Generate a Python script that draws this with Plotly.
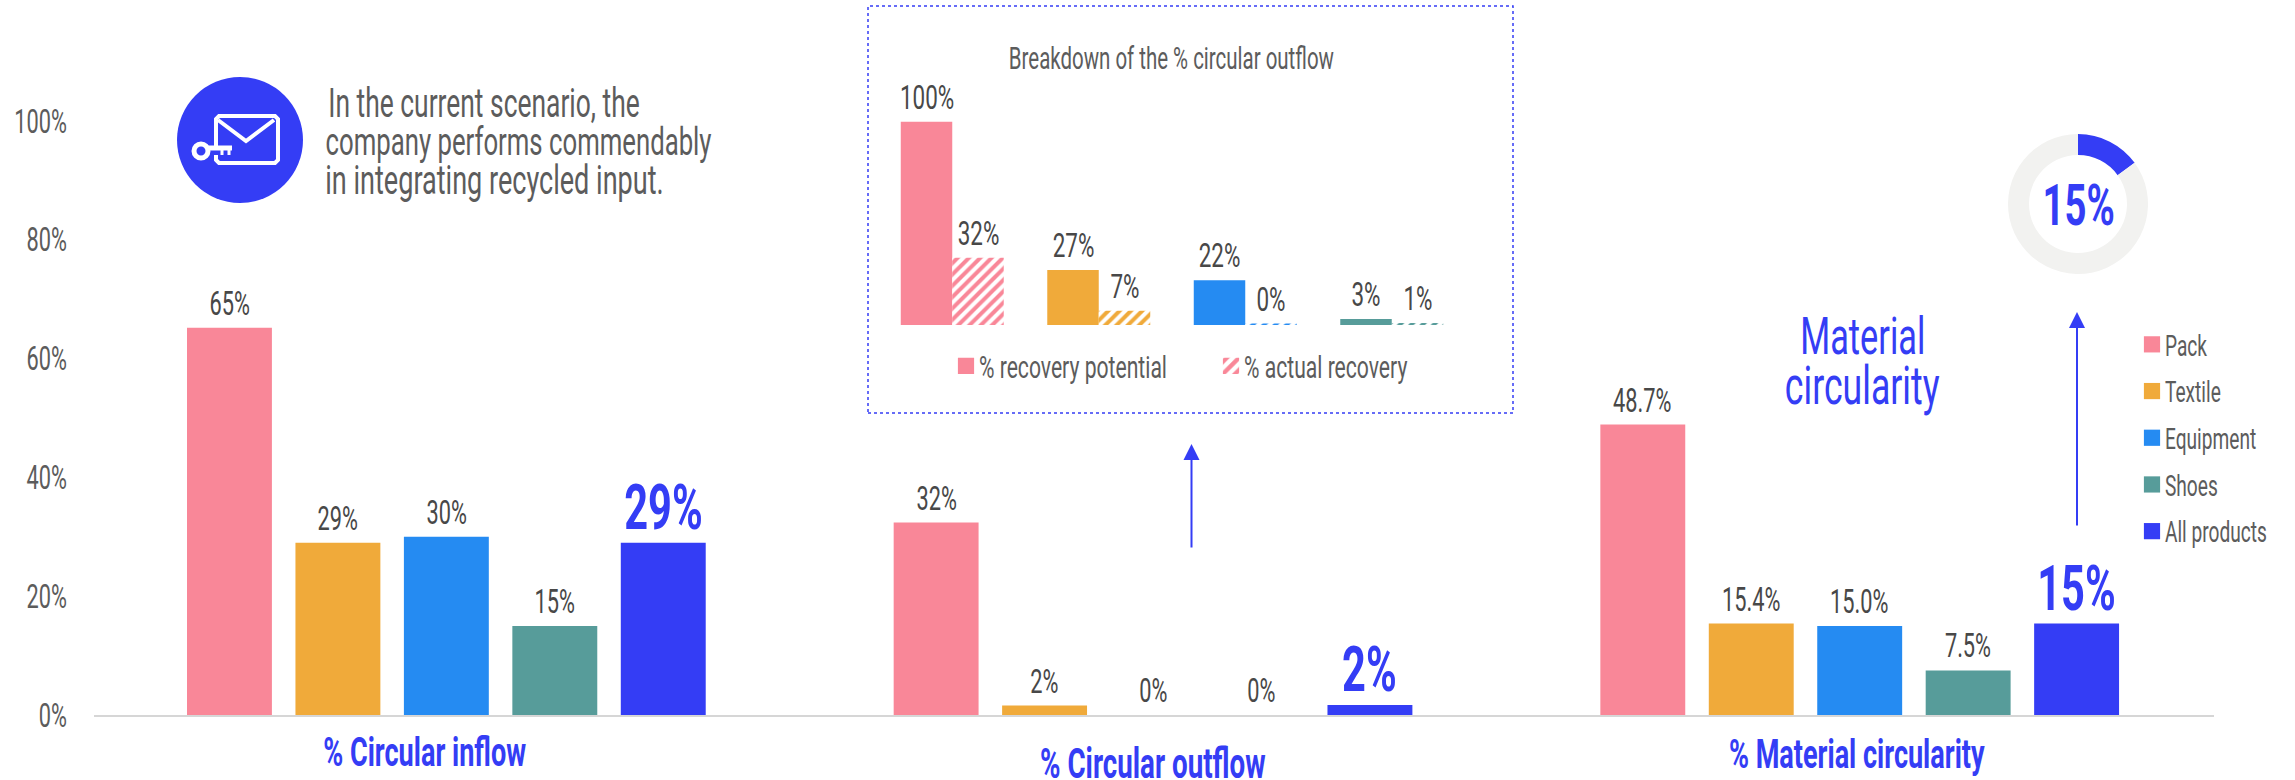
import plotly.graph_objects as go

W, H = 2295, 780
FONT = "Roboto"
GREY = "#5c5c5c"
DARK = "#484848"
ACCENT = "#343df5"

categories = ["Pack", "Textile", "Equipment", "Shoes", "All products"]
colors = ["#f98798", "#f0aa3a", "#258bf2", "#579c9a", ACCENT]
circular_inflow = [65.2, 29, 30, 15, 29]
circular_outflow = [32.4, 1.6, 0, 0, 1.7]
material_circularity = [48.9, 15.4, 15.0, 7.5, 15.4]
inflow_labels = ["65%", "29%", "30%", "15%", "29%"]
outflow_labels = ["32%", "2%", "0%", "0%", "2%"]
material_labels = ["48.7%", "15.4%", "15.0%", "7.5%", "15%"]

inset_categories = ["Pack", "Textile", "Equipment", "Shoes"]
recovery_potential = [100, 27, 22, 3]
actual_recovery = [33, 7, 0.5, 1]
potential_labels = ["100%", "27%", "22%", "3%"]
actual_labels = ["32%", "7%", "0%", "1%"]
donut_values = [15, 85]


def px(x):
    return x / W


def py(y):
    return (H - y) / H


def fnt(size, color=GREY):
    return dict(family=FONT, size=size, color=color)


fig = go.Figure()
groups = [
    ("x", "y", circular_inflow, inflow_labels),
    ("x2", "y", circular_outflow, outflow_labels),
    ("x3", "y", material_circularity, material_labels),
]
annotations = []
for g, (xa, ya, vals, labels) in enumerate(groups):
    for i, cat in enumerate(categories):
        fig.add_trace(go.Bar(
            x=[cat], y=[vals[i]], xaxis=xa, yaxis=ya, width=0.783,
            marker=dict(color=colors[i], line_width=0), name=cat,
            legendgroup=cat, showlegend=g == 0, legend="legend",
        ))
        big = i == 4
        annotations.append(dict(
            x=i, y=vals[i], xref=xa, yref=ya, text=f"<b>{labels[i]}</b>" if big else labels[i], showarrow=False,
            yanchor="bottom", yshift=-3 if big else 3,
            font=fnt(63 if big else 33, ACCENT if big else DARK),
        ))

BW = 0.3515
fig.add_trace(go.Bar(
    x=inset_categories, y=recovery_potential, xaxis="x4", yaxis="y4",
    width=BW, offset=-BW, name="% recovery potential", legend="legend2",
    marker=dict(color=colors[:4], line_width=0),
))
fig.add_trace(go.Bar(
    x=inset_categories, y=actual_recovery, xaxis="x4", yaxis="y4",
    width=BW, offset=0, name="% actual recovery", legend="legend2",
    marker=dict(color="white", line_width=0,
                pattern=dict(shape="/", size=8, solidity=0.5, fgcolor=colors[:4],
                             bgcolor="white", fillmode="replace")),
))
for i in range(4):
    for vals, labels, off in ((recovery_potential, potential_labels, -BW / 2),
                              (actual_recovery, actual_labels, BW / 2)):
        annotations.append(dict(
            x=i + off, y=vals[i], xref="x4", yref="y4", text=labels[i], showarrow=False,
            yanchor="bottom", yshift=3, font=fnt(34, DARK),
        ))

fig.add_trace(go.Pie(
    values=donut_values, hole=0.7, sort=False, direction="clockwise", rotation=0,
    marker=dict(colors=[ACCENT, "#f2f2f0"], line_width=0), textinfo="none",
    showlegend=False, domain=dict(x=[px(2008), px(2148)], y=[py(274), py(134)]),
))


def note(x, y, text, size, color=GREY, bold=False):
    annotations.append(dict(
        x=px(x), y=py(y), xref="paper", yref="paper", text=f"<b>{text}</b>" if bold else text,
        showarrow=False, xanchor="center", yanchor="middle", font=fnt(size, color),
    ))


note(484, 104, "In the current scenario, the", 40)
note(518, 142, "company performs commendably", 39)
note(494, 180, "in integrating recycled input.", 41)
note(424, 752, "% Circular inflow", 41, ACCENT, bold=True)
note(1153, 763, "% Circular outflow", 42, ACCENT, bold=True)
note(1857, 754, "% Material circularity", 41, ACCENT, bold=True)
note(1171, 59, "Breakdown of the % circular outflow", 31)
note(1862, 336, "Material", 52, ACCENT)
note(1862, 385, "circularity", 54, ACCENT)
note(2078, 205, "15%", 58, ACCENT, bold=True)

for x, y0, y1 in ((1191.5, 549, 444), (2077, 527, 312)):
    annotations.append(dict(
        x=px(x), y=py(y1), ax=0, ay=y0 - y1, xref="paper", yref="paper",
        axref="pixel", ayref="pixel", text="", showarrow=True, arrowhead=2,
        arrowsize=1.6, arrowwidth=2, arrowcolor=ACCENT,
    ))

ICON = "white"
shapes = [
    dict(type="rect", xref="paper", yref="paper", x0=px(868), x1=px(1513), y0=py(413), y1=py(6),
         line=dict(color=ACCENT, width=1.5, dash="dot"), fillcolor="rgba(0,0,0,0)", layer="below"),
    dict(type="circle", xref="paper", yref="paper", x0=px(177), x1=px(303), y0=py(203), y1=py(77),
         fillcolor=ACCENT, line_width=0),
]


def poly(points, width=4, close=False):
    path = "M" + " L".join(f"{px(a):.5f},{py(b):.5f}" for a, b in points) + (" Z" if close else "")
    shapes.append(dict(type="path", xref="paper", yref="paper", path=path,
                       line=dict(color=ICON, width=width)))


poly([(216, 150), (216, 119), (219, 116), (275, 116), (278, 119), (278, 160), (275, 163),
      (219, 163), (216, 160), (216, 155)])
poly([(218, 120), (246, 141), (274, 120)])
poly([(207, 148), (232, 148)], 5)
poly([(222, 148), (222, 155)], 3)
poly([(229, 148), (229, 155)], 3)
shapes.append(dict(type="circle", xref="paper", yref="paper", x0=px(194), x1=px(208), y0=py(158), y1=py(144),
                   line=dict(color=ICON, width=5), fillcolor=ACCENT))

G0, GW = 94, 706.67
common_x = dict(type="category", categoryorder="array", categoryarray=categories,
                range=[-1.249, 5.267], showticklabels=False, ticks="", showgrid=False,
                linecolor="#d6d6d6", linewidth=2, showline=True, zeroline=False, anchor="y")

fig.update_layout(
    width=W, height=H, autosize=False, paper_bgcolor="white", plot_bgcolor="rgba(0,0,0,0)",
    margin=dict(l=0, r=0, t=0, b=0, autoexpand=False), barmode="overlay", showlegend=True,
    font=fnt(24),
    xaxis=dict(domain=[px(G0), px(G0 + GW)], **common_x),
    xaxis2=dict(domain=[px(G0 + GW), px(G0 + 2 * GW)], **common_x),
    xaxis3=dict(domain=[px(G0 + 2 * GW), px(G0 + 3 * GW)], **common_x),
    xaxis4=dict(domain=[px(879), px(1465)], type="category", categoryorder="array",
                categoryarray=inset_categories, range=[-0.5, 3.5], visible=False, anchor="y4"),
    yaxis=dict(domain=[py(715), py(121)], range=[0, 100], tickvals=[0, 20, 40, 60, 80, 100],
               ticktext=["0%", "20%", "40%", "60%", "80%", "100%"], showgrid=False, zeroline=False,
               ticks="", showline=False, anchor="x", ticklabelstandoff=26, tickfont=fnt(33)),
    yaxis4=dict(domain=[py(325), py(121.5)], range=[0, 100], visible=False, anchor="x4"),
    legend=dict(x=px(2125), y=py(344 - 25), xanchor="left", yanchor="top", orientation="v",
                traceorder="grouped", tracegroupgap=6, font=fnt(29),
                bgcolor="rgba(0,0,0,0)", itemclick=False, itemdoubleclick=False),
    legend2=dict(x=px(939), y=py(366), xanchor="left", yanchor="middle", orientation="h",
                 entrywidth=220, entrywidthmode="pixels", font=fnt(32),
                 bgcolor="rgba(0,0,0,0)", itemclick=False, itemdoubleclick=False),
    annotations=annotations, shapes=shapes,
)

# The reference uses a tall condensed face; squeeze the installed one horizontally.
SQUEEZE = 0.66
post = """
document.body.style.margin='0';
var gd=document.getElementById('{plot_id}');
function squeeze(){
  gd.querySelectorAll('text').forEach(function(t){
    if(t.getAttribute('data-sq'))return;
    var x=parseFloat(t.getAttribute('x'))||0, tr=t.getAttribute('transform')||'';
    t.setAttribute('transform',tr+' translate('+x+' 0) scale(%s 1) translate('+(-x)+' 0)');
    t.setAttribute('data-sq','1');
  });
  gd.querySelectorAll('.legendpoints path').forEach(function(p){
    if(p.getAttribute('data-sq'))return;
    p.setAttribute('transform',(p.getAttribute('transform')||'')+' translate(7 0) scale(1.35)');
    p.setAttribute('data-sq','1');
  });
}
squeeze(); gd.on('plotly_afterplot',squeeze);
""" % SQUEEZE

fig.write_html("out.html", config=dict(displayModeBar=False), post_script=post)
